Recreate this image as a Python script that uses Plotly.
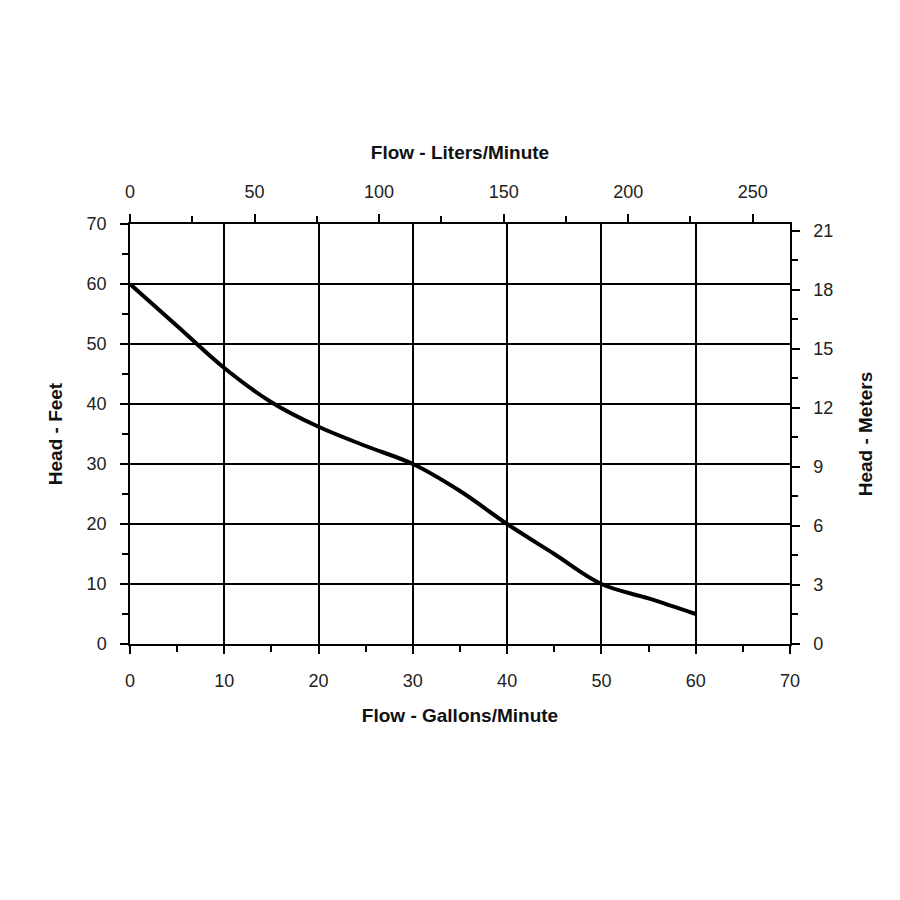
import plotly.graph_objects as go

# pump curve
flow_gpm = [0, 5, 10, 15, 20, 25, 30, 35, 40, 45, 50, 55, 60]
head_ft = [60, 53, 46, 40.3, 36.2, 33, 30, 25.5, 20, 15, 10, 7.6, 5]

liters_ticks = [0, 50, 100, 150, 200, 250]
meters_ticks = [0, 3, 6, 9, 12, 15, 18, 21]

GAL_TO_L = 3.785
FT_TO_M = 0.3048

font = "Liberation Sans, Arial, sans-serif"
tickfont = dict(family=font, size=18, color="#222222")
titlefont = dict(family=font, size=19, color="#111111", weight="bold")

fig = go.Figure()
fig.add_trace(go.Scatter(x=flow_gpm, y=head_ft, mode="lines",
                         line=dict(color="black", width=4, shape="spline", smoothing=1.0),
                         showlegend=False, hoverinfo="skip"))
# invisible copy on the metric axes so they get drawn
fig.add_trace(go.Scatter(x=[g * GAL_TO_L for g in flow_gpm], y=[h * FT_TO_M for h in head_ft],
                         xaxis="x2", yaxis="y2", mode="lines",
                         line=dict(color="rgba(0,0,0,0)"), showlegend=False, hoverinfo="skip"))

axis_common = dict(showline=True, linecolor="black", linewidth=1.5, ticks="outside",
                   ticklen=8, tickwidth=1.5, tickcolor="black", tickfont=tickfont,
                   zeroline=False, automargin=False)
minor_common = dict(ticks="outside", ticklen=6, tickcolor="black", tickwidth=1.5)

fig.update_layout(
    width=900, height=900,
    margin=dict(l=122, r=118, t=216, b=264),
    paper_bgcolor="white", plot_bgcolor="white",
    xaxis=dict(range=[0, 70], dtick=10, showgrid=True, gridcolor="black", gridwidth=1.5,
               ticklabelstandoff=12,
               title=dict(text="Flow - Gallons/Minute", font=titlefont, standoff=18),
               minor=dict(dtick=5, **minor_common), **axis_common),
    yaxis=dict(range=[0, 70], dtick=10, showgrid=True, gridcolor="black", gridwidth=1.5,
               ticklabelstandoff=10,
               title=dict(text="Head - Feet", font=titlefont, standoff=19),
               minor=dict(dtick=5, **minor_common), **axis_common),
    xaxis2=dict(range=[0, 70 * GAL_TO_L], overlaying="x", side="top", anchor="y",
                tickvals=liters_ticks, showgrid=False, ticklabelstandoff=9,
                title=dict(text="Flow - Liters/Minute", font=titlefont, standoff=17),
                minor=dict(dtick=25, **minor_common), **axis_common),
    yaxis2=dict(range=[0, 70 * FT_TO_M], overlaying="y", side="right", anchor="x",
                tickvals=meters_ticks, showgrid=False, ticklabelstandoff=10,
                title=dict(text="Head - Meters", font=titlefont, standoff=26),
                minor=dict(dtick=1.5, **minor_common), **axis_common),
)

fig.write_html("out.html")
